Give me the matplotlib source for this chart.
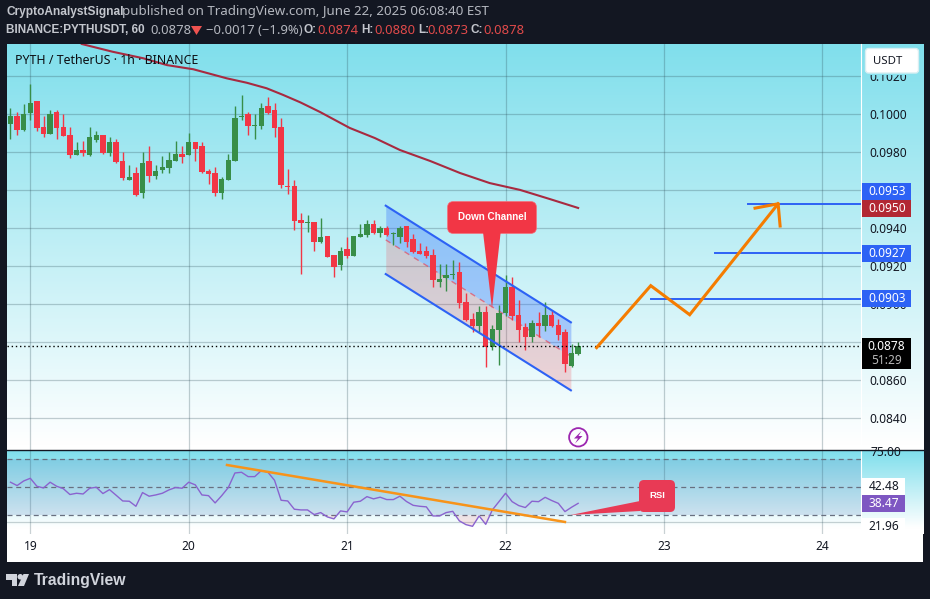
import matplotlib
matplotlib.use("Agg")
import matplotlib.pyplot as plt
from matplotlib.patches import Rectangle, FancyBboxPatch, Polygon, Circle
import numpy as np

plt.rcParams['font.family'] = ['Noto Sans', 'DejaVu Sans']
BOLD = ['Liberation Sans', 'DejaVu Sans']

# candles, hourly, prices in 1e-5 USDT
opens = [9949, 9991, 9918, 10007, 10070, 9933, 9896, 10012, 9933, 9891, 9786, 9812, 9786, 9865, 9891,
         9796, 9854, 9754, 9654, 9691, 9586, 9754, 9675, 9707, 9718, 9754, 9791, 9786, 9854, 9833,
         9702, 9691, 9586, 9654, 9754, 9986, 10002, 9939, 9939, 10044, 10023, 9933, 9623, 9623, 9444,
         9428, 9433, 9328, 9360, 9260, 9207, 9291, 9254, 9354, 9365, 9423, 9375, 9402, 9368, 9354,
         9412, 9344, 9281, 9281, 9260, 9118, 9139, 9154, 9170, 9012, 8923, 8886, 8960, 8775, 8865,
         8954, 9091, 8944, 8881, 8828, 8902, 8886, 8944, 8891, 8854, 8675, 8739]
highs = [10032, 10012, 10054, 10160, 10070, 9991, 10023, 10023, 10002, 9933, 9854, 9860, 9933, 9912, 9891,
         9881, 9870, 9802, 9733, 9723, 9802, 9833, 9733, 9781, 9802, 9860, 9833, 9902, 9854, 9854,
         9712, 9723, 9670, 9791, 10044, 10102, 10012, 10002, 10060, 10091, 10060, 9981, 9712, 9654, 9479,
         9470, 9433, 9454, 9360, 9260, 9302, 9354, 9360, 9423, 9444, 9444, 9412, 9412, 9381, 9412,
         9412, 9370, 9323, 9307, 9291, 9212, 9212, 9233, 9223, 9060, 8954, 8991, 8991, 8891, 8996,
         9154, 9144, 9023, 8902, 8918, 8960, 9012, 8970, 8923, 8870, 8791, 8802]
lows = [9870, 9891, 9912, 9970, 9912, 9881, 9896, 9870, 9886, 9770, 9786, 9781, 9781, 9854, 9791,
        9781, 9744, 9654, 9654, 9570, 9560, 9644, 9660, 9691, 9691, 9754, 9744, 9786, 9754, 9691,
        9633, 9570, 9554, 9654, 9754, 9970, 9891, 9870, 9923, 10002, 9881, 9612, 9581, 9391, 9160,
        9381, 9281, 9323, 9249, 9144, 9181, 9244, 9254, 9354, 9354, 9370, 9354, 9360, 9312, 9323,
        9302, 9270, 9265, 9244, 9091, 9091, 9070, 9133, 8981, 8912, 8854, 8854, 8670, 8760, 8681,
        8939, 8918, 8802, 8760, 8802, 8828, 8860, 8881, 8812, 8644, 8670, 8733]
closes = [9991, 9918, 10002, 10060, 9928, 9896, 10002, 9928, 9886, 9786, 9812, 9796, 9881, 9891, 9796,
          9854, 9749, 9665, 9670, 9575, 9744, 9675, 9702, 9723, 9760, 9791, 9775, 9854, 9818, 9696,
          9686, 9586, 9660, 9760, 9981, 9991, 9939, 9944, 10033, 10007, 9928, 9628, 9618, 9439, 9428,
          9433, 9328, 9354, 9249, 9196, 9281, 9254, 9360, 9370, 9423, 9375, 9402, 9365, 9374, 9402,
          9328, 9275, 9265, 9254, 9128, 9133, 9154, 9160, 9007, 8918, 8886, 8960, 8775, 8870, 8954,
          9091, 8939, 8865, 8828, 8902, 8886, 8944, 8886, 8839, 8686, 8744, 8781]
rsi_values = [53.6, 51.2, 54.5, 56.4, 50.7, 49.5, 53.6, 50.7, 49.0, 44.8, 45.7, 45.2, 49.3, 50.0, 45.5,
              48.3, 44.3, 40.2, 40.0, 36.4, 46.2, 43.6, 44.5, 45.7, 48.1, 49.8, 49.3, 53.6, 51.7, 44.5,
              44.0, 38.8, 44.0, 49.8, 60.2, 60.7, 57.6, 57.6, 61.9, 60.7, 55.0, 40.7, 40.2, 34.3, 33.8,
              33.8, 30.5, 31.9, 28.8, 27.4, 33.1, 32.4, 39.3, 40.0, 43.3, 41.7, 42.9, 41.2, 41.2, 43.6,
              39.8, 37.1, 36.4, 36.0, 29.5, 29.5, 31.9, 32.8, 26.0, 23.3, 22.1, 29.5, 23.5, 33.8, 39.7,
              45.7, 39.7, 36.9, 35.5, 40.0, 39.7, 42.8, 40.5, 38.5, 32.6, 35.7, 38.5]
first_hour = -3  # 18th 21:00, hours counted from the 19th 00:00

ma_hours = [7.8, 12.5, 17.1, 20.7, 24.7, 29.8, 32.8, 35.8, 38.3, 40.9, 43.9, 48.4, 52.2, 56.0, 60.6,
            65.1, 69.6, 74.2, 78.7, 83.0]
ma_prices = [0.10370, 0.10329, 0.10295, 0.10259, 0.10237, 0.10189, 0.10166, 0.10137, 0.10102, 0.10063,
             0.10012, 0.09928, 0.09875, 0.09812, 0.09754, 0.09691, 0.09638, 0.09602, 0.09554, 0.09507]

price_ticks = [0.0840, 0.0860, 0.0880, 0.0900, 0.0920, 0.0940, 0.0960, 0.0980, 0.1000, 0.1020]
day_labels = ['19', '20', '21', '22', '23', '24']
rsi_levels = [70, 50, 30]

# drawings on the chart
channel_hours = [53.85, 81.9]
channel_upper = [0.09519, 0.08905]
channel_mid = [0.09339, 0.08726]
channel_lower = [0.09159, 0.08547]
target_prices = [0.0903, 0.0927, 0.0953]
target_starts = [94.0, 103.8, 108.8]
path_hours = [85.8, 94.0, 99.9, 113.3]
path_prices = [0.08772, 0.09098, 0.08945, 0.09529]
head_hours = [109.8, 113.3, 113.6]
head_prices = [0.09506, 0.09529, 0.09412]
rsi_trend_hours = [29.8, 81.0]
rsi_trend_values = [65.9, 25.2]

DARK = '#131722'
W, H = 930, 599
PLOT_L, PLOT_R = 7, 861.3
MAIN_T, MAIN_B = 44, 450
RSI_T, RSI_B = 451, 534
PANEL_R, PANEL_B = 923, 562


def axes_px(left, top, right, bottom):
    return fig.add_axes([left / W, 1 - bottom / H, (right - left) / W, (bottom - top) / H])


def gradient(ax, left, right, top, bottom, end_y):
    # light blue at the top of the pane fading to white at end_y
    ys = np.linspace(top, bottom, 300)
    t = np.clip((ys - top) / (end_y - top), 0, 1)[:, None]
    c0 = np.array([0x80, 0xdf, 0xec]) / 255
    img = (c0 + (1 - c0) * t)[:, None, :]
    ax.imshow(img, extent=(left, right, bottom, top), aspect='auto', zorder=0, interpolation='bilinear')


fig = plt.figure(figsize=(W / 100, H / 100), dpi=100, facecolor=DARK)

# background panel
bg = axes_px(0, 0, W, H)
bg.set_xlim(0, W)
bg.set_ylim(H, 0)
bg.axis('off')
bg.add_patch(Rectangle((PLOT_L, MAIN_T), PANEL_R - PLOT_L, PANEL_B - MAIN_T, color='white', zorder=0, lw=0))
gradient(bg, PLOT_L, PANEL_R, MAIN_T, MAIN_B, 445)
gradient(bg, PLOT_L, PANEL_R, RSI_T, RSI_B, 528)
bg.set_xlim(0, W)
bg.set_ylim(H, 0)

# price pane
ax = axes_px(PLOT_L, MAIN_T, PLOT_R, MAIN_B)
ax.patch.set_alpha(0)
ax.set_xlim(-3.53, 125.9)
ax.set_ylim(0.08233, 0.1037)
day_hours = [24 * i for i in range(len(day_labels))]
ax.set_xticks(day_hours)
ax.set_xticklabels([])
ax.tick_params(axis='x', length=0)
ax.yaxis.tick_right()
ax.set_yticks(price_ticks)
ax.set_yticklabels(['%.4f' % p for p in price_ticks], fontsize=8.6, color='#131722')
ax.tick_params(axis='y', length=0, pad=6)
ax.grid(True, color='#2a4a55', alpha=0.27, lw=0.9)
ax.set_axisbelow(True)
for s in ['top', 'left', 'bottom']:
    ax.spines[s].set_visible(False)
ax.spines['right'].set_color('white')

o = np.array(opens) / 1e5
h = np.array(highs) / 1e5
l = np.array(lows) / 1e5
c = np.array(closes) / 1e5
hours = first_hour + np.arange(len(o))
cols = ['#388e48' if cl >= op else '#f23645' for op, cl in zip(o, c)]

ax.fill_between(channel_hours, channel_mid, channel_upper, color='#2962ff', alpha=0.3, lw=0, zorder=1)
ax.fill_between(channel_hours, channel_lower, channel_mid, color='#f23645', alpha=0.2, lw=0, zorder=1)

ax.vlines(hours, l, h, colors=cols, lw=1, zorder=3)
ax.bar(hours, np.abs(c - o), bottom=np.minimum(o, c), width=0.8, color=cols, lw=0, zorder=3)

ax.plot(channel_hours, channel_upper, color='#2d62f5', lw=1.5, zorder=4)
ax.plot(channel_hours, channel_lower, color='#2d62f5', lw=1.5, zorder=4)
ax.plot(channel_hours, channel_mid, color='#f23645', lw=1, ls=(0, (4, 4)), alpha=0.6, zorder=2)
ax.plot(ma_hours, ma_prices, color='#a82a40', lw=1.5, zorder=2)
ax.axhline(c[-1], color='black', lw=1, ls=(0, (1, 2)), zorder=4)

for p, start in zip(target_prices, target_starts):
    ax.plot([start, 125.9], [p, p], color='#2d62f5', lw=1.4, zorder=4)
ax.plot(path_hours, path_prices, color='#f57c00', lw=2.2, zorder=5, solid_joinstyle='miter')
ax.plot(head_hours, head_prices, color='#f57c00', lw=2.2, zorder=5)

# rsi pane
rsi_ax = axes_px(PLOT_L, RSI_T, PLOT_R, RSI_B)
rsi_ax.patch.set_alpha(0)
rsi_ax.set_xlim(-3.53, 125.9)
rsi_ax.set_ylim(16.6, 75.9)
rsi_ax.set_xticks(day_hours)
rsi_ax.set_xticklabels([])
rsi_ax.tick_params(axis='both', length=0)
rsi_ax.yaxis.tick_right()
rsi_ax.set_yticks([25])
rsi_ax.set_yticklabels([])
rsi_ax.grid(True, color='#2a4a55', alpha=0.25, lw=0.9)
rsi_ax.set_axisbelow(True)
for s in ['top', 'left', 'bottom']:
    rsi_ax.spines[s].set_visible(False)
rsi_ax.spines['right'].set_color('white')
rsi_ax.axhspan(rsi_levels[2], rsi_levels[0], color='#406ab0', alpha=0.17, lw=0, zorder=1)
for lev in rsi_levels:
    rsi_ax.axhline(lev, color='#687080', lw=0.9, ls=(0, (4, 3)), zorder=2)
rsi = np.array(rsi_values)
rsi_ax.fill_between(hours, rsi, 30, where=rsi < 30, color='#f23645', alpha=0.12, lw=0, interpolate=True, zorder=2)
rsi_ax.plot(hours, rsi, color='#8a63cf', lw=1.0, zorder=3)
rsi_ax.plot(rsi_trend_hours, rsi_trend_values, color='#f7931a', lw=1.8, zorder=4)

# overlay in pixel coordinates: header, price labels, callouts
top = axes_px(0, 0, W, H)
top.set_xlim(0, W)
top.set_ylim(H, 0)
top.axis('off')
top.patch.set_alpha(0)

HEAD = '#b4b7bf'
BOLD_COL = '#c3c6cd'
top.text(6, 12, 'CryptoAnalystSignal', color=BOLD_COL, fontsize=8.55, fontweight='bold', family=BOLD, va='center')
top.text(122, 12, 'published on TradingView.com, June 22, 2025 06:08:40 EST', color=HEAD, fontsize=9.6, va='center')
top.text(6, 30, 'BINANCE:PYTHUSDT, 60', color=BOLD_COL, fontsize=8.5, fontweight='bold', family=BOLD, va='center')
top.text(150, 30, '0.0878', color=HEAD, fontsize=9.4, va='center')
top.add_patch(Polygon([(191, 26), (202, 26), (196.5, 35)], color='#ef5350', lw=0))
top.text(206, 30, '\u22120.0017 (\u22121.9%)', color=HEAD, fontsize=9.4, va='center')
for lab, lx, val, vx in [('O:', 303, '0.0874', 317), ('H:', 361, '0.0880', 374),
                         ('L:', 418, '0.0873', 427), ('C:', 470, '0.0878', 483)]:
    top.text(lx, 30, lab, color=BOLD_COL, fontsize=8.5, fontweight='bold', family=BOLD, va='center')
    top.text(vx, 30, val, color='#e04a4a', fontsize=9.4, va='center')

top.text(15, 60.5, 'PYTH / TetherUS \u00b7 1h \u00b7 BINANCE', color='#0c0e13', fontsize=8.9, va='center')

top.add_patch(Rectangle((862, 70), 61, 5.4, color='#89e1ed', lw=0))
top.add_patch(FancyBboxPatch((867, 50), 50, 21.5, boxstyle='round,pad=1.5,rounding_size=3', fc='white', ec='#d8eef2', lw=1))
top.text(888, 61, 'USDT', color='#131722', fontsize=8.2, ha='center', va='center')


def price_box(y0, y1, label, bg_col, fg='white', right=911):
    top.add_patch(Rectangle((862, y0), right - 862, y1 - y0, color=bg_col, lw=0, zorder=5))
    top.text((862 + right) / 2 + 0.5, (y0 + y1) / 2, label, color=fg, fontsize=8.6, ha='center', va='center', zorder=6)


price_box(183.3, 200, '0.0953', '#2d62f5')
price_box(200, 217, '0.0950', '#b22833')
price_box(245, 262, '0.0927', '#2d62f5')
price_box(290, 306.7, '0.0903', '#2d62f5')
top.add_patch(Rectangle((862, 338), 49, 31, color='black', lw=0, zorder=5))
top.text(886.5, 346.5, '0.0878', color='white', fontsize=8.6, ha='center', va='center', zorder=6)
top.text(886.5, 360.5, '51:29', color='#b8b8b8', fontsize=8.6, ha='center', va='center', zorder=6)

# the 75.00 label is cut by the top of the pane
label_75 = top.text(870, 453, '75.00', color='#131722', fontsize=8.6, va='center')
label_75.set_clip_path(Rectangle((862, 451), 60, 20, transform=top.transData))
price_box(478, 495, '42.48', 'white', fg='#131722', right=905)
price_box(495, 512, '38.47', '#7e57c2', right=905)
top.add_patch(Rectangle((862, 518), 43, 15, color='white', lw=0, zorder=5))
top.text(883.5, 526.5, '21.96', color='#131722', fontsize=8.6, ha='center', va='center', zorder=6)

for d, lab in zip(day_hours, day_labels):
    top.text(30.3 + d * 6.6, 547, lab, color='#131722', fontsize=8.6, ha='center', va='center')

top.plot([PLOT_L, PANEL_R], [450.3, 450.3], color=DARK, lw=1.0, zorder=6)

# callouts
RED = '#f23645'
top.add_patch(FancyBboxPatch((452, 206), 80, 23, boxstyle='round,pad=4.5,rounding_size=6', fc=RED, ec='#f5707c', lw=0.5, zorder=7))
top.add_patch(Polygon([(483, 232), (500.7, 232), (492, 308.5)], color=RED, lw=0, zorder=7))
top.text(492, 216.5, 'Down Channel', color='white', fontsize=7.1, fontweight='bold', family=BOLD, ha='center', va='center', zorder=8)

RSI_RED = '#e83a55'
top.add_patch(FancyBboxPatch((643, 484), 28, 24, boxstyle='round,pad=4,rounding_size=5', fc=RSI_RED, ec='none', zorder=7))
top.add_patch(Polygon([(640, 501), (640, 511), (570.5, 515)], color=RSI_RED, lw=0, zorder=7))
top.text(657, 495.5, 'RSI', color='white', fontsize=6.8, fontweight='bold', family=BOLD, ha='center', va='center', zorder=8)

# lightning mark
top.add_patch(Circle((578.3, 437.3), 9.2, fc='none', ec='#9c27b0', lw=1.3))
top.add_patch(Polygon([(581.5, 431), (574, 438.5), (578, 438.5), (575, 443.5), (582.5, 436), (578.5, 436)], color='#9c27b0', lw=0))

# logo
LOGO = '#d1d4dc'
top.add_patch(Polygon([(6, 574), (17, 574), (17, 586), (11.5, 586), (11.5, 579.5), (6, 579.5)], color=LOGO, lw=0))
top.add_patch(Circle((20.3, 576.8), 2.8, color=LOGO, lw=0))
top.add_patch(Polygon([(23.5, 574), (29, 574), (24, 586), (18, 586)], color=LOGO, lw=0))
top.text(33.5, 580, 'TradingView', color=LOGO, fontsize=11.3, fontweight='bold', family=BOLD, va='center')

fig.savefig('out.png', dpi=100, facecolor=DARK)
